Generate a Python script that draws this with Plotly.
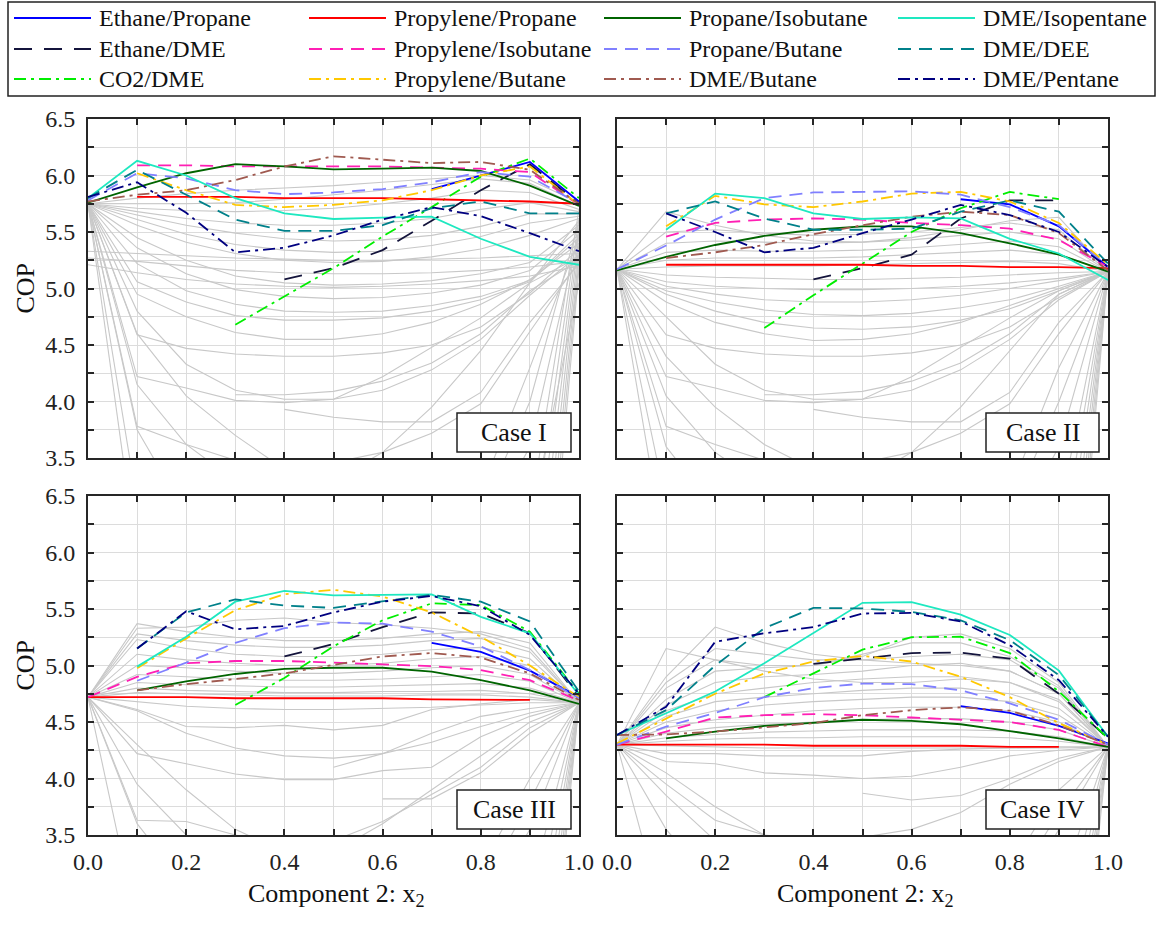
import plotly.graph_objects as go

W, H = 1157, 925
FONT = "Liberation Serif, Times New Roman, Times, serif"

X = [0.0, 0.1, 0.2, 0.3, 0.4, 0.5, 0.6, 0.7, 0.8, 0.9, 1.0]
X_RIGHT = [0.8, 0.9, 1.0]

NAMES = ["Ethane/Propane", "Ethane/DME", "CO2/DME",
         "Propylene/Propane", "Propylene/Isobutane", "Propylene/Butane",
         "Propane/Isobutane", "Propane/Butane", "DME/Butane",
         "DME/Isopentane", "DME/DEE", "DME/Pentane"]
COLORS = ["#0000ff", "#14143c", "#00ee00",
          "#ff0000", "#ff1fb4", "#ffc800",
          "#006400", "#8080ff", "#a05a50",
          "#1ee8c0", "#00808a", "#000080"]
DASHES = ["solid", "18px,12px", "12px,5px,3px,5px",
          "solid", "13px,8px", "12px,5px,3px,5px",
          "solid", "13px,8px", "12px,5px,3px,5px",
          "solid", "13px,8px", "12px,5px,3px,5px"]
CASE_LABELS = ["Case I", "Case II", "Case III", "Case IV"]
X_TICKS = [0.0, 0.2, 0.4, 0.6, 0.8, 1.0]
Y_TICKS = [3.5, 4.0, 4.5, 5.0, 5.5, 6.0, 6.5]

N = None
COP_I = [
    [N, N, N, N, N, N, N, 5.88, 6.00, 6.12, 5.77],
    [N, N, N, N, 5.08, 5.18, 5.34, 5.60, 5.87, 6.10, 5.75],
    [N, N, N, 4.68, 4.93, 5.18, 5.46, 5.72, 5.99, 6.15, 5.80],
    [N, 5.81, 5.81, 5.81, 5.80, 5.80, 5.80, 5.79, 5.78, 5.77, 5.75],
    [N, 6.09, 6.09, 6.08, 6.08, 6.08, 6.08, 6.07, 6.06, 6.03, 5.74],
    [N, 6.02, 5.87, 5.74, 5.72, 5.74, 5.78, 5.87, 6.00, 6.08, 5.74],
    [5.76, 5.895, 6.02, 6.10, 6.08, 6.055, 6.06, 6.07, 6.04, 5.91, 5.73],
    [5.78, 6.02, 5.975, 5.87, 5.835, 5.85, 5.88, 5.94, 6.03, 5.99, 5.75],
    [5.77, 5.83, 5.87, 5.96, 6.08, 6.17, 6.14, 6.11, 6.12, 6.05, 5.75],
    [5.80, 6.13, 6.00, 5.80, 5.665, 5.615, 5.627, 5.636, 5.44, 5.28, 5.21],
    [5.80, 6.05, 5.83, 5.61, 5.51, 5.51, 5.56, 5.71, 5.77, 5.665, 5.665],
    [5.81, 5.94, 5.67, 5.32, 5.36, 5.47, 5.61, 5.72, 5.64, 5.49, 5.33],
]
COP_II = [
    [N, N, N, N, N, N, N, 5.79, 5.745, 5.55, 5.19],
    [N, N, N, N, 5.08, 5.18, 5.30, 5.62, 5.78, 5.78, N],
    [N, N, N, 4.65, 4.94, 5.22, 5.50, 5.71, 5.855, 5.79, N],
    [N, 5.21, 5.21, 5.21, 5.21, 5.21, 5.20, 5.20, 5.19, 5.19, 5.18],
    [N, 5.46, 5.58, 5.61, 5.62, 5.61, 5.58, 5.56, 5.53, 5.43, 5.19],
    [N, 5.55, 5.82, 5.745, 5.72, 5.77, 5.84, 5.855, 5.77, 5.58, 5.21],
    [5.16, 5.28, 5.385, 5.465, 5.52, 5.55, 5.55, 5.49, 5.40, 5.30, 5.15],
    [5.17, 5.38, 5.61, 5.80, 5.85, 5.855, 5.86, 5.83, 5.72, 5.56, 5.19],
    [N, 5.27, 5.32, 5.385, 5.48, 5.56, 5.635, 5.68, 5.65, 5.49, 5.16],
    [N, 5.52, 5.84, 5.80, 5.665, 5.615, 5.63, 5.62, 5.44, 5.31, 5.075],
    [N, 5.665, 5.77, 5.62, 5.52, 5.52, 5.53, 5.68, 5.78, 5.68, 5.22],
    [N, 5.665, 5.50, 5.32, 5.36, 5.49, 5.61, 5.74, 5.65, 5.50, 5.19],
]
COP_III = [
    [N, N, N, N, N, N, N, 5.20, 5.12, 4.955, 4.72],
    [N, N, N, N, 5.08, 5.19, 5.34, 5.47, 5.46, 5.285, 4.72],
    [N, N, N, 4.65, 4.89, 5.17, 5.40, 5.55, 5.535, 5.30, 4.75],
    [4.72, 4.72, 4.72, 4.71, 4.71, 4.71, 4.71, 4.70, 4.70, 4.695, N],
    [4.72, 4.90, 5.02, 5.04, 5.04, 5.025, 5.01, 4.995, 4.96, 4.87, 4.69],
    [N, 4.975, 5.24, 5.49, 5.63, 5.67, 5.61, 5.47, 5.255, 5.00, 4.72],
    [N, 4.78, 4.86, 4.925, 4.97, 4.98, 4.98, 4.945, 4.87, 4.78, 4.66],
    [N, 4.865, 5.025, 5.20, 5.33, 5.38, 5.37, 5.30, 5.17, 4.96, 4.71],
    [N, 4.78, 4.835, 4.88, 4.93, 5.005, 5.08, 5.11, 5.07, 4.93, 4.695],
    [N, 4.99, 5.255, 5.565, 5.66, 5.62, 5.625, 5.63, 5.43, 5.285, 4.74],
    [N, 5.15, 5.47, 5.585, 5.53, 5.51, 5.565, 5.625, 5.565, 5.39, 4.77],
    [N, 5.15, 5.48, 5.32, 5.35, 5.47, 5.565, 5.615, 5.525, 5.27, 4.75],
]
COP_IV = [
    [N, N, N, N, N, N, N, 4.64, 4.58, 4.465, 4.31],
    [N, N, N, N, 5.015, 5.06, 5.11, 5.115, 5.06, 4.75, 4.355],
    [N, N, N, 4.72, 4.93, 5.14, 5.25, 5.255, 5.11, 4.77, 4.355],
    [4.30, 4.30, 4.30, 4.30, 4.29, 4.29, 4.29, 4.29, 4.28, 4.28, N],
    [4.30, 4.415, 4.54, 4.56, 4.57, 4.56, 4.54, 4.52, 4.50, 4.43, 4.28],
    [4.31, 4.53, 4.75, 4.93, 5.035, 5.085, 5.035, 4.90, 4.72, 4.49, 4.30],
    [N, 4.355, 4.415, 4.465, 4.49, 4.52, 4.51, 4.48, 4.42, 4.355, 4.28],
    [4.30, 4.46, 4.58, 4.72, 4.80, 4.84, 4.835, 4.78, 4.665, 4.52, 4.30],
    [4.385, 4.39, 4.415, 4.455, 4.49, 4.56, 4.605, 4.63, 4.60, 4.47, 4.30],
    [4.385, 4.58, 4.77, 5.02, 5.285, 5.555, 5.56, 5.45, 5.27, 4.955, 4.37],
    [4.385, 4.605, 5.00, 5.33, 5.51, 5.505, 5.475, 5.40, 5.225, 4.915, 4.37],
    [4.385, 4.635, 5.21, 5.285, 5.34, 5.46, 5.465, 5.39, 5.18, 4.87, 4.37],
]

# background (other mixtures) curves, values at X
GRAY_I = [
    [5.75, 5.80, 5.84, 5.87, 5.89, 5.91, 5.94, 5.97, 6.00, 5.96, 5.76],
    [5.75, 5.75, 5.75, 5.76, 5.79, 5.83, 5.87, 5.92, 5.97, 5.93, 5.73],
    [5.75, 5.71, 5.69, 5.68, 5.69, 5.71, 5.75, 5.80, 5.87, 5.85, 5.70],
    [5.75, 5.68, 5.62, 5.58, 5.56, 5.56, 5.58, 5.62, 5.70, 5.76, 5.68],
    [5.75, 5.65, 5.56, 5.49, 5.44, 5.42, 5.43, 5.47, 5.55, 5.66, 5.66],
    [5.75, 5.61, 5.48, 5.39, 5.34, 5.32, 5.33, 5.38, 5.46, 5.58, 5.64],
    [5.75, 5.56, 5.41, 5.31, 5.25, 5.23, 5.24, 5.28, 5.35, 5.47, 5.62],
    [5.33, 5.31, 5.29, 5.27, 5.26, 5.25, 5.25, 5.26, 5.27, 5.29, 5.31],
    [5.27, 5.24, 5.20, 5.16, 5.14, 5.13, 5.13, 5.14, 5.16, 5.19, 5.24],
    [5.21, 5.14, 5.08, 5.04, 5.02, 5.01, 5.02, 5.04, 5.07, 5.11, 5.20],
    [5.75, 5.45, 5.25, 5.11, 5.05, 5.03, 5.04, 5.07, 5.13, 5.23, 5.56],
    [5.75, 5.36, 5.13, 4.99, 4.93, 4.91, 4.92, 4.96, 5.03, 5.16, 5.52],
    [5.75, 5.22, 4.98, 4.86, 4.80, 4.79, 4.80, 4.85, 4.93, 5.07, 5.48],
    [5.75, 5.06, 4.88, 4.76, 4.72, 4.72, 4.74, 4.80, 4.90, 5.06, 5.45],
    [5.75, 4.95, 4.75, 4.61, 4.55, 4.55, 4.60, 4.70, 4.86, 5.08, 5.40],
    [5.75, 4.59, 4.47, 4.42, 4.40, 4.40, 4.43, 4.50, 4.66, 4.96, 5.35],
    [5.75, 4.80, 4.33, 4.10, 4.02, 4.02, 4.10, 4.28, 4.55, 4.94, 5.30],
    [5.75, 4.22, 4.12, 4.01, 3.99, 4.02, 4.22, 4.48, 4.74, 5.05, 5.28],
    [N, N, N, 4.06, 4.06, 4.09, 4.18, 4.34, 4.60, 4.98, 5.25],
    [5.75, 3.78, 3.62, 3.48, 3.42, 3.46, 3.55, 3.72, 3.98, 4.62, 5.24],
    [N, N, N, N, 3.93, 3.86, 3.82, 3.82, 4.08, 4.70, 5.22],
    [N, N, N, N, N, 3.30, 3.55, 3.95, 4.45, 5.05, 5.60],
    [5.75, 3.10],
    [5.75, 3.75, 3.00],
    [5.75, 4.15, 3.62, 3.30],
    [5.75, 2.60],
    [5.75, 4.60, 4.05, 3.70, 3.40],
]
GRAY_II = [
    [5.17, 5.68, 5.56, 5.47, 5.42, 5.41, 5.45, 5.52, 5.60, 5.63, 5.15],
    [5.17, 5.50, 5.52, 5.49, 5.47, 5.48, 5.50, 5.54, 5.58, 5.52, 5.15],
    [5.17, 5.40, 5.42, 5.41, 5.40, 5.41, 5.43, 5.47, 5.50, 5.44, 5.15],
    [5.17, 5.32, 5.34, 5.33, 5.33, 5.34, 5.36, 5.39, 5.42, 5.37, 5.15],
    [5.17, 5.25, 5.27, 5.27, 5.27, 5.28, 5.30, 5.32, 5.34, 5.30, 5.15],
    [5.17, 5.19, 5.20, 5.20, 5.20, 5.21, 5.22, 5.23, 5.24, 5.22, 5.15],
    [5.17, 5.12, 5.10, 5.09, 5.08, 5.08, 5.09, 5.10, 5.12, 5.14, 5.15],
    [5.17, 5.06, 5.02, 5.00, 4.99, 4.99, 5.00, 5.02, 5.05, 5.09, 5.15],
    [5.17, 5.02, 4.95, 4.90, 4.88, 4.88, 4.90, 4.94, 5.00, 5.07, 5.15],
    [5.17, 4.98, 4.88, 4.81, 4.77, 4.76, 4.78, 4.83, 4.90, 5.02, 5.15],
    [5.17, 4.95, 4.80, 4.70, 4.65, 4.64, 4.66, 4.72, 4.82, 4.98, 5.15],
    [5.17, 4.88, 4.70, 4.60, 4.54, 4.55, 4.60, 4.70, 4.85, 5.00, 5.15],
    [5.17, 4.59, 4.47, 4.42, 4.40, 4.40, 4.43, 4.50, 4.66, 4.92, 5.15],
    [5.17, 4.75, 4.33, 4.10, 4.02, 4.02, 4.10, 4.28, 4.55, 4.90, 5.15],
    [5.17, 4.22, 4.12, 4.01, 3.99, 4.02, 4.22, 4.48, 4.74, 4.98, 5.15],
    [N, N, N, 4.06, 4.06, 4.09, 4.18, 4.34, 4.60, 4.95, 5.15],
    [5.17, 3.78, 3.62, 3.48, 3.42, 3.46, 3.55, 3.72, 3.98, 4.60, 5.15],
    [N, N, N, N, 3.93, 3.86, 3.82, 3.82, 4.08, 4.70, 5.15],
    [N, N, N, N, N, 3.30, 3.55, 3.95, 4.45, 4.95, 5.15],
    [5.17, 3.10],
    [5.17, 3.60, 3.05],
    [5.17, 4.05, 3.55, 3.25],
    [5.17, 2.60],
    [5.17, 4.40, 3.95, 3.62, 3.40],
]
GRAY_III = [
    [4.72, 5.37, 5.30, 5.25, 5.22, 5.22, 5.24, 5.28, 5.30, 5.20, 4.67],
    [4.72, 5.33, 5.34, 5.40, 5.42, 5.38, 5.36, 5.33, 5.28, 5.15, 4.67],
    [4.72, 5.28, 5.22, 5.18, 5.16, 5.16, 5.18, 5.22, 5.24, 5.12, 4.67],
    [4.72, 5.23, 5.15, 5.10, 5.08, 5.08, 5.10, 5.14, 5.16, 5.06, 4.67],
    [4.72, 5.10, 5.05, 5.02, 5.00, 5.00, 5.02, 5.06, 5.08, 5.00, 4.67],
    [4.72, 5.00, 4.98, 4.95, 4.93, 4.93, 4.95, 4.98, 5.00, 4.92, 4.67],
    [4.72, 4.92, 4.90, 4.88, 4.87, 4.87, 4.88, 4.90, 4.92, 4.86, 4.67],
    [4.72, 4.85, 4.83, 4.82, 4.81, 4.81, 4.82, 4.83, 4.84, 4.80, 4.67],
    [4.72, 4.80, 4.78, 4.77, 4.76, 4.76, 4.77, 4.77, 4.78, 4.75, 4.67],
    [4.72, 4.76, 4.75, 4.74, 4.73, 4.73, 4.73, 4.74, 4.74, 4.72, 4.67],
    [4.72, 4.68, 4.64, 4.62, 4.61, 4.61, 4.62, 4.63, 4.65, 4.67, 4.67],
    [4.72, 4.61, 4.46, 4.45, 4.47, 4.43, 4.47, 4.61, 4.66, 4.70, 4.67],
    [4.72, 4.60, 4.40, 4.27, 4.20, 4.18, 4.22, 4.32, 4.46, 4.58, 4.67],
    [4.72, 4.22, 4.13, 4.04, 3.99, 3.99, 4.07, 4.10, 4.37, 4.55, 4.67],
    [N, N, N, N, N, 4.10, 4.22, 4.40, 4.55, 4.62, 4.67],
    [4.72, 3.63, 3.62, 3.50, 3.40, 3.45, 3.62, 3.86, 4.10, 4.45, 4.67],
    [N, N, N, N, N, N, 3.82, 3.82, 4.05, 4.40, 4.67],
    [N, N, N, N, N, 3.35, 3.60, 3.90, 4.20, 4.50, 4.67],
    [4.72, 2.70],
    [4.72, 3.60, 3.05],
    [4.72, 3.95, 3.50, 3.20],
    [4.72, 4.30, 3.90, 3.55, 3.35],
]
GRAY_IV = [
    [4.30, 5.15, 5.05, 4.95, 4.88, 4.85, 4.85, 4.88, 4.85, 4.70, 4.28],
    [4.30, 4.90, 5.34, 5.20, 5.10, 5.05, 5.02, 5.00, 4.95, 4.75, 4.28],
    [4.30, 4.85, 5.15, 5.10, 5.05, 5.05, 5.08, 5.10, 5.05, 4.80, 4.28],
    [4.30, 4.80, 5.05, 5.00, 5.00, 5.08, 5.25, 5.28, 5.15, 4.85, 4.28],
    [4.30, 4.70, 4.95, 4.98, 5.00, 5.10, 5.20, 5.20, 5.08, 4.82, 4.28],
    [4.30, 4.65, 4.85, 4.90, 4.92, 4.95, 5.00, 5.02, 4.95, 4.75, 4.28],
    [4.30, 4.60, 4.75, 4.80, 4.85, 4.88, 4.90, 4.90, 4.85, 4.68, 4.28],
    [4.30, 4.55, 4.68, 4.72, 4.75, 4.78, 4.80, 4.80, 4.75, 4.62, 4.28],
    [4.30, 4.50, 4.60, 4.65, 4.68, 4.70, 4.72, 4.72, 4.68, 4.56, 4.28],
    [4.30, 4.45, 4.52, 4.56, 4.60, 4.62, 4.63, 4.63, 4.60, 4.50, 4.28],
    [4.30, 4.40, 4.45, 4.48, 4.50, 4.52, 4.53, 4.53, 4.50, 4.43, 4.28],
    [4.30, 4.36, 4.39, 4.41, 4.42, 4.43, 4.43, 4.43, 4.42, 4.37, 4.28],
    [4.30, 4.33, 4.35, 4.36, 4.36, 4.37, 4.37, 4.37, 4.36, 4.33, 4.28],
    [4.30, 4.29, 4.28, 4.27, 4.27, 4.27, 4.27, 4.27, 4.27, 4.27, 4.28],
    [4.30, 4.22, 4.22, 4.20, 4.20, 4.20, 4.24, 4.26, 4.27, 4.28, 4.28],
    [4.30, 4.15, 4.13, 4.05, 4.03, 4.00, 4.02, 4.10, 4.20, 4.25, 4.28],
    [4.30, 3.95, 3.63, 3.50, 3.45, 3.48, 3.55, 3.70, 3.95, 4.15, 4.28],
    [N, N, N, N, N, 3.87, 3.81, 3.85, 4.00, 4.18, 4.28],
    [4.30, 2.70],
    [4.30, 3.55, 3.05],
    [4.30, 3.85, 3.45, 3.20],
    [4.30, 4.05, 3.75, 3.50, 3.35],
]
# steep curves near pure component 1 (values at x = 0.8, 0.9, 1.0)
RIGHT_I = [[N, 3.0, 5.70], [N, 2.6, 5.62], [N, 2.2, 5.55], [N, 1.8, 5.48],
           [N, 1.4, 5.40], [N, 1.0, 5.32], [N, 0.6, 5.25], [N, 0.2, 5.18],
           [3.0, 4.00, 5.60], [2.8, 3.60, 5.50], [3.2, 4.30, 5.45], [N, 2.9, 5.05]]
RIGHT_II = [[N, 3.0, 5.15], [N, 2.6, 5.15], [N, 2.2, 5.15], [N, 1.8, 5.15],
            [N, 1.4, 5.15], [N, 1.0, 5.15], [N, 0.6, 5.15], [N, 0.2, 5.15],
            [3.0, 4.00, 5.15], [2.8, 3.60, 5.15], [3.2, 4.30, 5.15]]
RIGHT_III = [[N, 3.0, 4.67], [N, 2.6, 4.67], [N, 2.2, 4.67], [N, 1.8, 4.67],
             [N, 1.4, 4.67], [N, 1.0, 4.67], [N, 0.6, 4.67], [N, 0.2, 4.67],
             [3.0, 3.80, 4.67], [2.8, 3.55, 4.67], [3.2, 4.00, 4.67]]
RIGHT_IV = [[N, 3.0, 4.28], [N, 2.6, 4.28], [N, 2.2, 4.28], [N, 1.8, 4.28],
            [N, 1.4, 4.28], [N, 1.0, 4.28], [N, 0.6, 4.28], [N, 0.2, 4.28],
            [3.0, 3.70, 4.28], [2.8, 3.55, 4.28], [3.2, 3.90, 4.28]]

CASES = [COP_I, COP_II, COP_III, COP_IV]
GRAYS = [GRAY_I, GRAY_II, GRAY_III, GRAY_IV]
RIGHTS = [RIGHT_I, RIGHT_II, RIGHT_III, RIGHT_IV]

# ---------------- layout geometry (pixels) ----------------
PANEL_X = [(88, 579), (617, 1108), (88, 579), (617, 1108)]
PANEL_Y = [(119, 458), (119, 458), (496, 835), (496, 835)]


def pxx(x):
    return x / W


def pxy(y):
    return 1 - y / H


fig = go.Figure()
GRAY = "#c8c8c8"

for k in range(4):
    xa = "x" if k == 0 else f"x{k+1}"
    ya = "y" if k == 0 else f"y{k+1}"
    for g in GRAYS[k]:
        fig.add_trace(go.Scatter(x=X[:len(g)], y=g, mode="lines", xaxis=xa, yaxis=ya,
                                 line=dict(color=GRAY, width=1.1), showlegend=False,
                                 hoverinfo="skip", connectgaps=False))
    for g in RIGHTS[k]:
        fig.add_trace(go.Scatter(x=X_RIGHT, y=g, mode="lines", xaxis=xa, yaxis=ya,
                                 line=dict(color=GRAY, width=1.1), showlegend=False,
                                 hoverinfo="skip"))
    for i, vals in enumerate(CASES[k]):
        fig.add_trace(go.Scatter(x=X, y=vals, mode="lines", xaxis=xa, yaxis=ya,
                                 name=NAMES[i], showlegend=False,
                                 line=dict(color=COLORS[i], width=1.8, dash=DASHES[i])))

axis_common = dict(showline=True, linecolor="#262626", linewidth=2, mirror="ticks",
                   ticks="inside", ticklen=6, tickwidth=1.5, tickcolor="#262626",
                   showgrid=True, gridcolor="#dcdcdc", gridwidth=1, zeroline=False,
                   tickfont=dict(family=FONT, size=24, color="#222222"),
                   automargin=False)

layout = dict(width=W, height=H, margin=dict(l=0, r=0, t=0, b=0),
              paper_bgcolor="white", plot_bgcolor="white", showlegend=False,
              font=dict(family=FONT, color="#222222"))
for k in range(4):
    xs = "xaxis" if k == 0 else f"xaxis{k+1}"
    ys = "yaxis" if k == 0 else f"yaxis{k+1}"
    xa = "x" if k == 0 else f"x{k+1}"
    ya = "y" if k == 0 else f"y{k+1}"
    x0, x1 = PANEL_X[k]
    y0, y1 = PANEL_Y[k]
    layout[xs] = dict(axis_common, domain=[pxx(x0), pxx(x1)], anchor=ya, range=[0, 1],
                      tickvals=X_TICKS, ticktext=[f"{v:.1f}" for v in X_TICKS],
                      showticklabels=(k >= 2), ticklabelstandoff=4,
                      minor=dict(dtick=0.1, tick0=0, ticks="inside", ticklen=6,
                                 tickwidth=1.5, tickcolor="#262626",
                                 showgrid=True, gridcolor="#dcdcdc", gridwidth=1))
    layout[ys] = dict(axis_common, domain=[pxy(y1), pxy(y0)], anchor=xa, range=[3.5, 6.5],
                      tickvals=Y_TICKS, ticktext=[f"{v:.1f}" for v in Y_TICKS],
                      showticklabels=(k % 2 == 0), ticklabelstandoff=6,
                      minor=dict(dtick=0.25, tick0=0, ticks="inside", ticklen=6,
                                 tickwidth=1.5, tickcolor="#262626",
                                 showgrid=True, gridcolor="#dcdcdc", gridwidth=1))

shapes = []
annotations = []

# case label boxes
CASE_BOX = [(457, 413, 571, 452), (986, 413, 1099, 452),
            (457, 790, 571, 829), (986, 790, 1099, 829)]
for k, (bx0, by0, bx1, by1) in enumerate(CASE_BOX):
    shapes.append(dict(type="rect", xref="paper", yref="paper",
                       x0=pxx(bx0), x1=pxx(bx1), y0=pxy(by1), y1=pxy(by0),
                       line=dict(color="#222222", width=1.5), fillcolor="white",
                       layer="above"))
    annotations.append(dict(text=CASE_LABELS[k], xref="paper", yref="paper",
                            x=pxx((bx0 + bx1) / 2), y=pxy((by0 + by1) / 2),
                            xanchor="center", yanchor="middle", showarrow=False,
                            font=dict(family=FONT, size=26, color="#111111")))

# y titles
for yc in [288.5, 665.5]:
    annotations.append(dict(text="COP", xref="paper", yref="paper", x=pxx(25), y=pxy(yc),
                            xanchor="center", yanchor="middle", textangle=-90,
                            showarrow=False, font=dict(family=FONT, size=26, color="#111111")))
# x titles
for xc in [336, 865]:
    annotations.append(dict(text="Component 2: x<sub>2</sub>", xref="paper", yref="paper",
                            x=pxx(xc), y=pxy(895), xanchor="center", yanchor="middle",
                            showarrow=False, font=dict(family=FONT, size=26, color="#111111")))

# legend box and entries
shapes.append(dict(type="rect", xref="paper", yref="paper",
                   x0=pxx(8), x1=pxx(1155), y0=pxy(96), y1=pxy(2),
                   line=dict(color="#222222", width=1.5), fillcolor="rgba(0,0,0,0)"))
COL_X = [14, 309, 604, 898]
ROW_Y = [18, 49, 79]
for i, name in enumerate(NAMES):
    col, row = i // 3, i % 3
    lx = COL_X[col]
    ly = ROW_Y[row]
    shapes.append(dict(type="line", xref="paper", yref="paper",
                       x0=pxx(lx), x1=pxx(lx + 77), y0=pxy(ly), y1=pxy(ly),
                       line=dict(color=COLORS[i], width=1.8, dash=DASHES[i])))
    annotations.append(dict(text=name, xref="paper", yref="paper",
                            x=pxx(lx + 83), y=pxy(ly), xanchor="left", yanchor="middle",
                            showarrow=False, font=dict(family=FONT, size=24, color="#111111")))

layout["shapes"] = shapes
layout["annotations"] = annotations
fig.update_layout(**layout)
fig.write_html("out.html", config={"displayModeBar": False},
               post_script="document.body.style.margin='0';document.body.style.padding='0';")
